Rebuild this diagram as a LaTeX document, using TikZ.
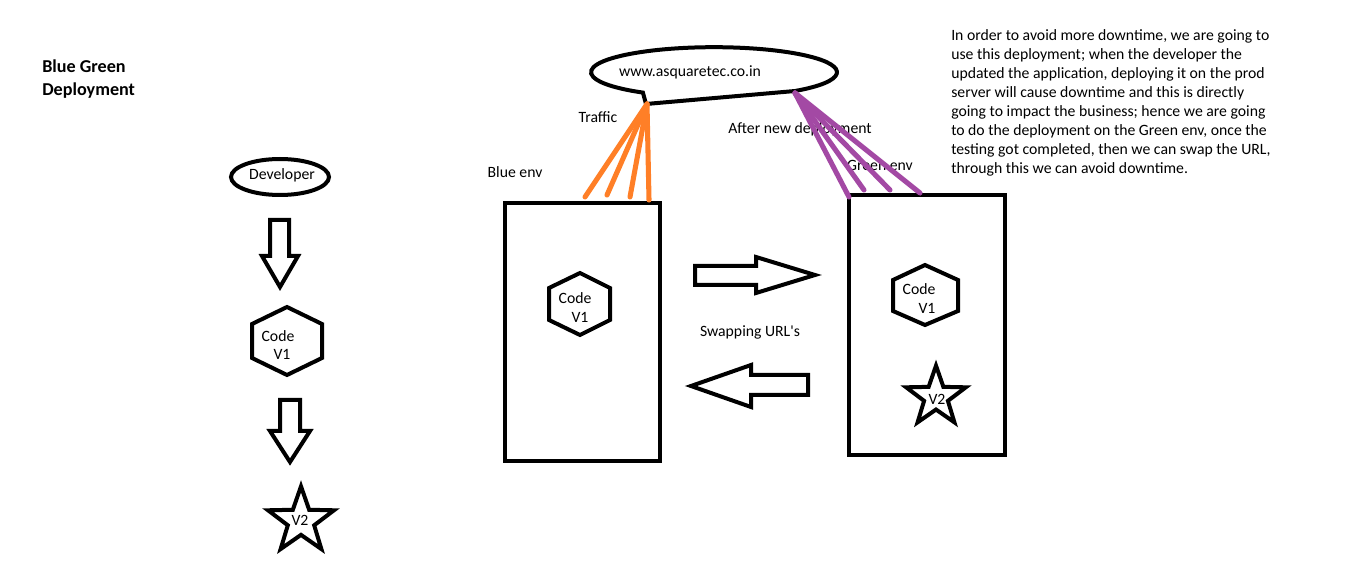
\documentclass[tikz,border=0pt]{standalone}
\usepackage{fontspec}
\setmainfont{Carlito}
\usetikzlibrary{shapes.geometric,calc}
\definecolor{paintorange}{HTML}{FF7F27}
\definecolor{paintpurple}{HTML}{A349A4}
\begin{document}
\begin{tikzpicture}[x=0.75pt,y=-0.75pt,
  font=\fontsize{11.8}{14}\selectfont,
  txt/.style={anchor=base, inner sep=0pt},
  ltxt/.style={anchor=base west, inner sep=0pt},
  outline/.style={draw=black, line width=3pt, line join=miter},
  envbox/.style={draw=black, line width=3.6pt, inner sep=0pt, rectangle},
  starshape/.style={star, star points=5, star point ratio=2.5, draw=black,
    line width=3pt, inner sep=0pt, minimum size=#1},
  ellnode/.style={ellipse, draw=black, line width=3pt, inner sep=0pt,
    minimum width=73.5pt, minimum height=27pt},
  trafficline/.style={draw=paintorange, line width=3.8pt, line cap=round},
  newline/.style={draw=paintpurple, line width=3.8pt, line cap=round}]
\useasboundingbox (0,0) rectangle (1360,573);

% title
\node[ltxt, font=\fontsize{13.6}{14}\selectfont\bfseries] (t1) at (42,73) {Blue Green};
\node[ltxt, font=\fontsize{13.6}{14}\selectfont\bfseries] (t2) at (42,96) {Deployment};

% left column
\node[ellnode] (dev) at (280,177) {};
\node[txt] (devt) at (282,180) {Developer};
\draw[outline] (270,220) -- (289,220) -- (289,256) -- (298,256) -- (280,287) -- (262,256) -- (270,256) -- cycle;
\draw[outline] (287,307) -- (322,324) -- (322,358) -- (287,375) -- (252,358) -- (252,324) -- cycle;
\node[txt] (c1) at (278,342) {Code};
\node[txt] (v1a) at (282,360) {V1};
\draw[outline] (280,400) -- (300,400) -- (300,431) -- (310,431) -- (290,462) -- (270,431) -- (280,431) -- cycle;
\node[starshape=52pt] (s1) at (301,521) {};
\node[txt] (v2a) at (300,525) {V2};

% environments
\node[envbox, minimum width=116.25pt, minimum height=193.5pt] (blue) at (582.5,332) {};
\node[envbox, minimum width=117pt, minimum height=195pt] (green) at (927,325) {};
\node[txt] (bluet) at (515,178) {Blue env};
\node[txt] (greent) at (880,171) {Green env};

% blue hexagon
\draw[outline] (580,273) -- (610,288) -- (610,320) -- (580,335) -- (549,320) -- (549,288) -- cycle;
\node[txt] (c2) at (575,304) {Code};
\node[txt] (v1b) at (580,323) {V1};

% green hexagon and star
\draw[outline] (925,265) -- (958,280) -- (958,311) -- (925,325) -- (893,311) -- (893,280) -- cycle;
\node[txt] (c3) at (919,295) {Code};
\node[txt] (v1c) at (927,314) {V1};
\node[starshape=47pt] (s2) at (936,397) {};
\node[txt] (v2b) at (937,405) {V2};

% swap arrows
\draw[outline] (695,266) -- (756,266) -- (756,257) -- (815,275) -- (756,293) -- (756,285) -- (695,285) -- cycle;
\draw[outline] (808,375) -- (751,375) -- (751,365) -- (691,386) -- (751,407) -- (751,395) -- (808,395) -- cycle;
\node[txt] (swap) at (750,337) {Swapping URL\textquotesingle s};

% speech bubble
\draw[outline] (795,91) arc[start angle=-48.8, end angle=234.7, x radius=92.25pt, y radius=18.75pt]
  .. controls (645,98) .. (646,104) -- cycle;
\node[txt] (url) at (690,77) {www.asquaretec.co.in};
\coordinate (tail) at (647,104);
\coordinate (bubr) at (795,93);

\node[txt] (traffic) at (598,123) {Traffic};
\node[txt] (after) at (800,134) {After new deployment};

% traffic lines
\coordinate (o1) at (585,197);
\coordinate (o2) at (607,195);
\coordinate (o3) at (630,197);
\coordinate (o4) at (649,200);
\foreach \p in {o1,o2,o3,o4} \draw[trafficline] (tail) -- (\p);
\coordinate (p1) at (849,197);
\coordinate (p2) at (864,190);
\coordinate (p3) at (890,190);
\coordinate (p4) at (920,193);
\foreach \p in {p1,p2,p3,p4} \draw[newline] (bubr) -- (\p);

% explanation text
\foreach \t [count=\i from 0] in {
  {In order to avoid more downtime, we are going to},
  {use this deployment; when the developer the},
  {updated the application, deploying it on the prod},
  {server will cause downtime and this is directly},
  {going to impact the business; hence we are going},
  {to do the deployment on the Green env, once the},
  {testing got completed, then we can swap the URL,},
  {through this we can avoid downtime.}}
  \node[ltxt] (l\i) at (951,41+18.9*\i) {\t};
\end{tikzpicture}
\end{document}
